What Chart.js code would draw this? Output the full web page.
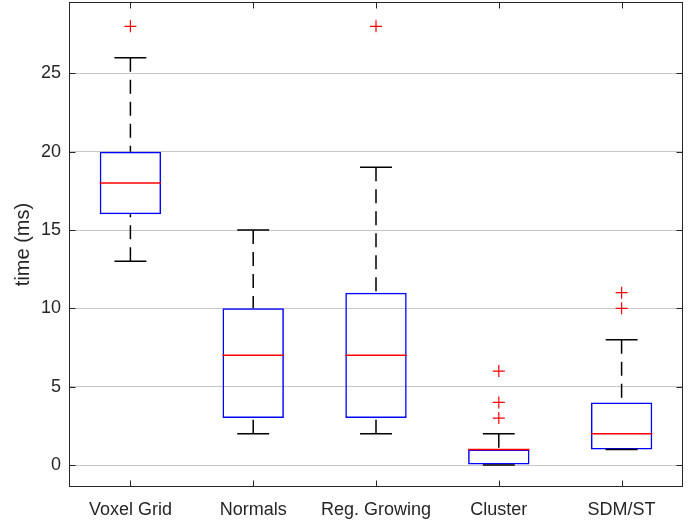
<!DOCTYPE html>
<html>
<head>
<meta charset="utf-8">
<script src="https://cdn.jsdelivr.net/npm/chart.js@4.4.1/dist/chart.umd.min.js"></script>
<style>
  html, body { margin: 0; padding: 0; background: #fff; }
  #wrap { width: 692px; height: 521px; }
</style>
</head>
<body>
<div id="wrap"><canvas id="boxChart" width="692" height="521"></canvas></div>
<script>
// box plot values (time in ms)
const categories = ['Voxel Grid', 'Normals', 'Reg. Growing', 'Cluster', 'SDM/ST'];
const lowerWhisker = [13, 2, 2, 0, 1];
const q1 = [16, 3, 3, 0, 1];
const medians = [18, 7, 7, 1, 2];
const q3 = [20, 10, 11, 1, 4];
const upperWhisker = [26, 15, 19, 2, 8];
const outliers = [[28], [], [28], [3, 4, 6], [10, 11]];
const yTicks = [0, 5, 10, 15, 20, 25];

const FONT = '"Liberation Sans", Arial, Helvetica, sans-serif';
const AXIS_COLOR = '#262626';

// whiskers, caps and medians drawn with the chart scales
const whiskerPlugin = {
  id: 'whiskers',
  afterDatasetsDraw(chart) {
    const ctx = chart.ctx;
    const xs = chart.scales.x;
    const ys = chart.scales.y;
    const step = xs.getPixelForValue(1) - xs.getPixelForValue(0);
    const capHalf = step * 0.13;
    const boxHalf = step * 0.25;
    ctx.save();
    categories.forEach((c, i) => {
      const x = xs.getPixelForValue(i);
      ctx.strokeStyle = '#000';
      ctx.lineWidth = 1.5;
      // dashed whisker lines, from the end toward the box
      ctx.setLineDash([14, 8]);
      ctx.beginPath();
      ctx.moveTo(x, ys.getPixelForValue(upperWhisker[i]));
      ctx.lineTo(x, ys.getPixelForValue(q3[i]));
      ctx.moveTo(x, ys.getPixelForValue(lowerWhisker[i]));
      ctx.lineTo(x, ys.getPixelForValue(q1[i]));
      ctx.stroke();
      ctx.setLineDash([]);
      // caps
      ctx.beginPath();
      [upperWhisker[i], lowerWhisker[i]].forEach(v => {
        const y = ys.getPixelForValue(v);
        ctx.moveTo(x - capHalf, y);
        ctx.lineTo(x + capHalf, y);
      });
      ctx.stroke();
      // median
      ctx.strokeStyle = '#ff0000';
      ctx.lineWidth = 1.5;
      const ym = ys.getPixelForValue(medians[i]);
      ctx.beginPath();
      ctx.moveTo(x - boxHalf, ym);
      ctx.lineTo(x + boxHalf, ym);
      ctx.stroke();
    });
    ctx.restore();
  },
  afterDraw(chart) {
    // axes box with inward ticks, matlab style
    const ctx = chart.ctx;
    const a = chart.chartArea;
    const xs = chart.scales.x;
    const ys = chart.scales.y;
    const L = Math.round(a.left) + 0.5, R = Math.round(a.right) - 0.5;
    const T = Math.round(a.top) + 0.5, B = Math.round(a.bottom) - 0.5;
    const tl = 6;
    ctx.save();
    ctx.strokeStyle = AXIS_COLOR;
    ctx.lineWidth = 1;
    ctx.strokeRect(L, T, R - L, B - T);
    ctx.beginPath();
    categories.forEach((c, i) => {
      const x = Math.round(xs.getPixelForValue(i)) + 0.5;
      ctx.moveTo(x, B); ctx.lineTo(x, B - tl);
      ctx.moveTo(x, T); ctx.lineTo(x, T + tl);
    });
    yTicks.forEach(v => {
      const y = Math.round(ys.getPixelForValue(v)) + 0.5;
      ctx.moveTo(L, y); ctx.lineTo(L + tl, y);
      ctx.moveTo(R, y); ctx.lineTo(R - tl, y);
    });
    ctx.stroke();
    ctx.restore();
  }
};

const outlierPoints = [];
outliers.forEach((list, i) => {
  list.forEach(v => outlierPoints.push({ x: categories[i], y: v }));
});

new Chart(document.getElementById('boxChart').getContext('2d'), {
  type: 'bar',
  data: {
    labels: categories,
    datasets: [
      {
        label: 'box',
        data: q1.map((v, i) => [v, q3[i]]),
        backgroundColor: 'rgba(0,0,0,0)',
        borderColor: '#0000ff',
        borderWidth: 1.5,
        borderSkipped: false,
        barPercentage: 0.5,
        categoryPercentage: 1
      },
      {
        label: 'outliers',
        type: 'line',
        data: outlierPoints,
        showLine: false,
        pointStyle: 'cross',
        pointRadius: 6,
        pointBorderWidth: 1.2,
        pointBorderColor: '#ff0000',
        pointBackgroundColor: '#ff0000'
      }
    ]
  },
  options: {
    responsive: false,
    animation: false,
    layout: { autoPadding: false, padding: { top: 2, right: 9, left: 0, bottom: 0 } },
    plugins: {
      legend: { display: false },
      tooltip: { enabled: false }
    },
    scales: {
      x: {
        offset: true,
        grid: { display: false, drawTicks: false },
        border: { display: false },
        ticks: { color: AXIS_COLOR, padding: 12, font: { family: FONT, size: 18 } },
        afterFit: (scale) => { scale.height = 34; scale.paddingLeft = 0; scale.paddingRight = 0; }
      },
      y: {
        min: -1.4,
        max: 29.55,
        grid: { color: '#c8c8c8', lineWidth: 1, drawTicks: false },
        border: { display: false },
        ticks: { color: AXIS_COLOR, padding: 8, font: { family: FONT, size: 18 } },
        afterBuildTicks: (scale) => { scale.ticks = yTicks.map(v => ({ value: v })); },
        afterFit: (scale) => { scale.width = 69; scale.paddingTop = 0; scale.paddingBottom = 0; },
        title: {
          display: true,
          text: 'time (ms)',
          color: AXIS_COLOR,
          padding: { top: 11, bottom: 0 },
          font: { family: FONT, size: 20 }
        }
      }
    }
  },
  plugins: [whiskerPlugin]
});
</script>
</body>
</html>
